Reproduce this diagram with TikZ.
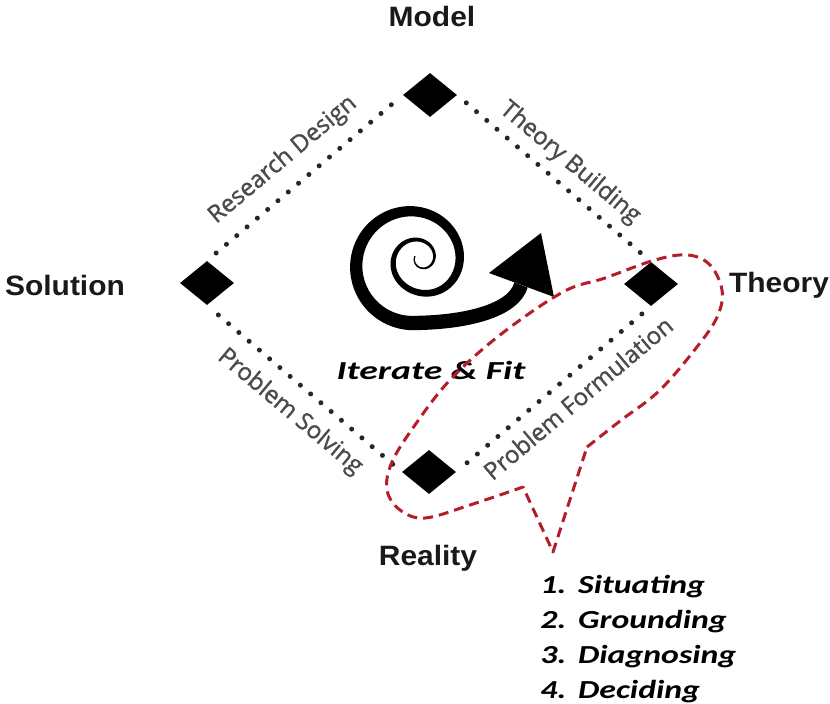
\documentclass[tikz,border=0pt]{standalone}
\usepackage{fontspec}
\setmainfont{Liberation Sans}
\newfontfamily\edgefont{Open Sans}[FakeBold=1.2]
\newfontfamily\calfont{Carlito}
\usetikzlibrary{shapes.geometric}
\definecolor{calloutred}{RGB}{180,30,40}
\definecolor{edgegray}{RGB}{75,75,75}

\begin{document}
\begin{tikzpicture}[x=1pt,y=1pt,
  corner/.style={shape=diamond, fill=black, minimum width=54pt, minimum height=44pt, inner sep=0pt},
  pole/.style={font=\fontsize{28}{30}\selectfont\bfseries, text=black!90, anchor=base,
               inner sep=0pt, xscale=1.07},
  dotlink/.style={black!85, line width=5pt, dash pattern=on 0pt off 13.5pt, line cap=round,
                  shorten <=12pt, shorten >=12pt},
  edgelabel/.style={font=\edgefont\fontsize{24}{26}\selectfont, text=edgegray, inner sep=0pt},
  callout/.style={calloutred, line width=3pt, dash pattern=on 10pt off 6pt, line join=round},
  declare function={
    sps(\u)=(\u-180)/810;
    spj(\u)=min(8,max(-8,-30*(sps(\u)-0.59)));
    spr(\u)=7+36*sps(\u)+16/(1+exp(spj(\u)));
    spw(\u)=1.3+13*sps(\u)*sqrt(sps(\u));
    spcx(\u)=422-12*sps(\u);
    spcy(\u)=-256-8*sps(\u);
  }
]
\useasboundingbox (0,0) rectangle (830,-704);

% the four poles of the cycle
\node[corner] (model)    at (430,-95)  {};
\node[corner] (solution) at (207,-283) {};
\node[corner] (theory)   at (651,-284) {};
\node[corner] (reality)  at (429,-472) {};

\node[pole] (modeltext)    at (432,-27)  {Model};
\node[pole] (solutiontext) at (65,-295)  {Solution};
\node[pole] (theorytext)   at (779,-292) {Theory};
\node[pole] (realitytext)  at (428,-565) {Reality};

% dotted links between the poles
\draw[dotlink] (solution.north) -- (model.west);
\draw[dotlink] (model.east) -- (theory.north);
\draw[dotlink] (theory.south) -- (reality.east);
\draw[dotlink] (reality.west) -- (solution.south);

% activity names along the links
\node[edgelabel, rotate=40]  (design)      at (283,-160) {Research Design};
\node[edgelabel, rotate=-40] (building)    at (570,-163) {Theory Building};
\node[edgelabel, rotate=-40] (solving)     at (290,-412) {Problem Solving};
\node[edgelabel, rotate=40]  (formulation) at (578,-398) {Problem Formulation};

% spiral arrow in the middle, widening as it winds outwards
\fill[black]
  plot[domain=180:990, samples=360, variable=\u]
    ({spcx(\u)+(spr(\u)+spw(\u)/2)*cos(\u)}, {spcy(\u)+(spr(\u)+spw(\u)/2)*sin(\u)})
  -- plot[domain=990:180, samples=360, variable=\u]
    ({spcx(\u)+(spr(\u)-spw(\u)/2)*cos(\u)}, {spcy(\u)+(spr(\u)-spw(\u)/2)*sin(\u)})
  -- cycle;
\draw[line width=14.3pt] (410,-323) .. controls (468,-323) and (514,-310) .. (521,-285);
\fill[black] (541,-233) -- (489,-273) -- (554,-297) -- cycle;

\node[font=\calfont\fontsize{26}{30}\selectfont\bfseries\itshape, xscale=1.45, inner sep=0pt]
  (iterate) at (431,-370) {Iterate \& Fit};

% callout around the problem formulation link
\draw[callout]
  plot[smooth, tension=0.6] coordinates {
    (587,-447) (620,-421) (660,-390) (700,-343) (718,-315) (722,-290)
    (710,-265) (688,-255) (655,-260) (605,-278) (563,-292) (500,-335)
    (450,-380) (415,-425) (392,-462) (387,-490) (400,-510) (425,-518)
    (470,-505) (523,-487)}
  -- (553,-552) -- cycle;

\node[font=\calfont\fontsize{26}{35}\selectfont\bfseries\itshape, xscale=1.3,
      anchor=north west, inner sep=0pt] (steps) at (540,-568.5)
  {\begin{tabular}{@{}l@{\hspace{9pt}}l@{}}
    1. & Situating\\
    2. & Grounding\\
    3. & Diagnosing\\
    4. & Deciding
  \end{tabular}};
\end{tikzpicture}
\end{document}
